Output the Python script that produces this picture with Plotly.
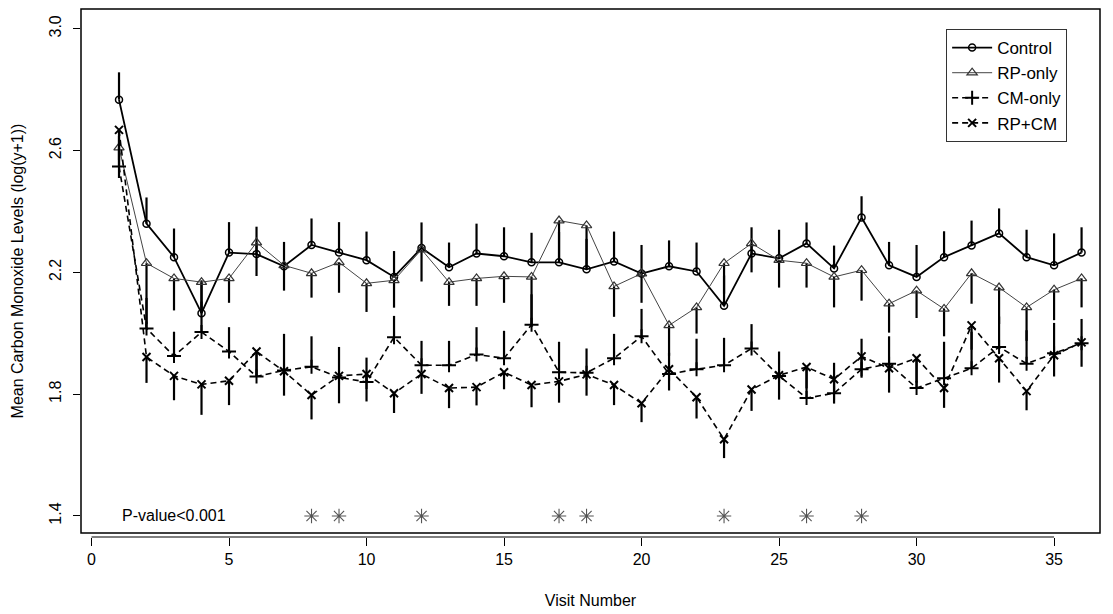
import plotly.graph_objects as go

visits = list(range(1, 37))

control = [2.767, 2.36, 2.25, 2.066, 2.265, 2.26, 2.22, 2.29, 2.265, 2.24,
           2.185, 2.28, 2.217, 2.262, 2.253, 2.233, 2.233, 2.21, 2.236, 2.196,
           2.22, 2.203, 2.09, 2.262, 2.246, 2.295, 2.213, 2.38, 2.223, 2.185,
           2.25, 2.288, 2.328, 2.25, 2.223, 2.265]
control_up = [0.09, 0.086, 0.094, 0.108, 0.10, 0.09, 0.08, 0.087, 0.10, 0.094,
              0.085, 0.084, 0.081, 0.098, 0.095, 0.097, 0.10, 0.10, 0.098, 0.094,
              0.085, 0.095, 0.10, 0.086, 0.094, 0.069, 0.075, 0.07, 0.077, 0.105,
              0.085, 0.082, 0.082, 0.09, 0.105, 0.083]

rp_only = [2.61, 2.23, 2.18, 2.168, 2.18, 2.298, 2.223, 2.197, 2.233, 2.164,
           2.174, 2.275, 2.168, 2.18, 2.187, 2.185, 2.37, 2.354, 2.154, 2.196,
           2.026, 2.085, 2.23, 2.295, 2.24, 2.23, 2.185, 2.207, 2.097, 2.14,
           2.08, 2.197, 2.15, 2.085, 2.143, 2.18]
rp_only_down = [0.10, 0.20, 0.105, 0.10, 0.08, 0.11, 0.083, 0.08, 0.10, 0.094,
                0.09, 0.105, 0.078, 0.09, 0.087, 0.155, 0.13, 0.14, 0.10, 0.096,
                0.10, 0.086, 0.10, 0.095, 0.09, 0.08, 0.10, 0.10, 0.095, 0.09,
                0.09, 0.10, 0.12, 0.11, 0.10, 0.095]

cm_only = [2.548, 2.016, 1.925, 2.004, 1.94, 1.858, 1.878, 1.89, 1.855, 1.84,
           1.987, 1.895, 1.895, 1.93, 1.918, 2.028, 1.872, 1.87, 1.918, 1.99,
           1.866, 1.882, 1.895, 1.95, 1.86, 1.787, 1.803, 1.882, 1.90, 1.82,
           1.852, 1.885, 1.955, 1.90, 1.934, 1.967]
cm_only_up = [0.10, 0.10, 0.08, 0.10, 0.08, 0.08, 0.12, 0.10, 0.10, 0.08,
              0.07, 0.08, 0.08, 0.09, 0.09, 0.10, 0.10, 0.08, 0.08, 0.09,
              0.07, 0.10, 0.09, 0.08, 0.08, 0.10, 0.10, 0.10, 0.09, 0.10,
              0.12, 0.12, 0.10, 0.11, 0.10, 0.08]

rp_cm = [2.668, 1.922, 1.86, 1.832, 1.844, 1.94, 1.875, 1.797, 1.86, 1.866,
         1.803, 1.866, 1.82, 1.823, 1.872, 1.83, 1.842, 1.865, 1.83, 1.77,
         1.882, 1.79, 1.652, 1.815, 1.862, 1.889, 1.849, 1.924, 1.885, 1.918,
         1.82, 2.026, 1.918, 1.81, 1.928, 1.97]
rp_cm_down = [0.10, 0.085, 0.08, 0.10, 0.08, 0.08, 0.08, 0.08, 0.09, 0.09,
              0.065, 0.065, 0.066, 0.06, 0.056, 0.073, 0.07, 0.07, 0.066, 0.062,
              0.07, 0.07, 0.062, 0.07, 0.08, 0.07, 0.08, 0.07, 0.08, 0.08,
              0.065, 0.08, 0.08, 0.063, 0.07, 0.08]

sig_visits = [8, 9, 12, 17, 18, 23, 26, 28]
sig_level = [1.4] * len(sig_visits)

x_ticks = [0, 5, 10, 15, 20, 25, 30, 35]
y_ticks = [1.4, 1.8, 2.2, 2.6, 3.0]
y_tick_text = ["1.4", "1.8", "2.2", "2.6", "3.0"]

FONT = "Liberation Sans, Arial, sans-serif"
zeros = [0] * len(visits)


def err(up, down):
    return dict(type="data", symmetric=False, array=up, arrayminus=down,
                color="black", thickness=2.2, width=0)


fig = go.Figure()

fig.add_trace(go.Scatter(
    x=visits, y=control, name="Control", mode="lines+markers",
    line=dict(color="black", width=1.8),
    marker=dict(symbol="circle-open", size=7, color="black", line=dict(width=1.5)),
    error_y=err(control_up, zeros)))

fig.add_trace(go.Scatter(
    x=visits, y=rp_only, name="RP-only", mode="lines+markers",
    line=dict(color="#444444", width=1),
    marker=dict(symbol="triangle-up-open", size=9, color="#333333", line=dict(width=1.2)),
    error_y=err(zeros, rp_only_down)))

fig.add_trace(go.Scatter(
    x=visits, y=cm_only, name="CM-only", mode="lines+markers",
    line=dict(color="black", width=1.6, dash="6px,4px"),
    marker=dict(symbol="cross-thin-open", size=10, color="black", line=dict(width=2)),
    error_y=err(cm_only_up, zeros)))

fig.add_trace(go.Scatter(
    x=visits, y=rp_cm, name="RP+CM", mode="lines+markers",
    line=dict(color="black", width=1.6, dash="6px,4px"),
    marker=dict(symbol="x-thin-open", size=8, color="black", line=dict(width=2)),
    error_y=err(zeros, rp_cm_down)))

fig.add_trace(go.Scatter(
    x=sig_visits, y=sig_level, mode="markers", showlegend=False,
    marker=dict(symbol="asterisk-open", size=12, color="#555555",
                line=dict(width=1.1, color="#555555"))))

fig.add_annotation(x=3.0, y=1.4, text="P-value<0.001", showarrow=False,
                   font=dict(family=FONT, size=16, color="black"),
                   xanchor="center", yanchor="middle")

# plot frame
fig.add_shape(type="rect", xref="x domain", yref="y domain",
              x0=0, x1=1, y0=0, y1=1, line=dict(color="black", width=1.5))
# detached x-axis line from 0 to 35
fig.add_shape(type="line", xref="x", yref="paper", x0=0, x1=35, y0=0, y1=0,
              line=dict(color="black", width=1.2))

# page body has an 8px default margin, so the figure is offset by 8px
fig.update_layout(
    width=1113, height=614,
    margin=dict(l=73, r=21, t=1, b=85, autoexpand=False),
    paper_bgcolor="white", plot_bgcolor="white",
    font=dict(family=FONT, size=16, color="black"),
    showlegend=True,
    legend=dict(x=0.849, y=0.962, xanchor="left", yanchor="top",
                bordercolor="#333333", borderwidth=1, bgcolor="white",
                font=dict(family=FONT, size=17), tracegroupgap=0,
                itemwidth=40),
    xaxis=dict(range=[-0.382, 36.67], tickvals=x_ticks, ticks="outside",
               ticklen=8, tickwidth=1.2, tickcolor="black",
               showgrid=False, zeroline=False, showline=False,
               anchor="free", position=0, automargin=False,
               title=dict(text="Visit Number", font=dict(size=16), standoff=27),
               tickfont=dict(size=16)),
    yaxis=dict(range=[1.344, 3.065], domain=[0.0076, 1], tickvals=y_ticks,
               ticktext=y_tick_text, tickangle=-90, ticks="outside",
               ticklen=7, tickwidth=1.2, tickcolor="black", ticklabelstandoff=6,
               showgrid=False, zeroline=False, showline=False, automargin=False,
               title=dict(text="Mean Carbon Monoxide Levels (log(y+1))",
                          font=dict(size=16), standoff=18),
               tickfont=dict(size=16)),
)

fig.write_html("out.html")
